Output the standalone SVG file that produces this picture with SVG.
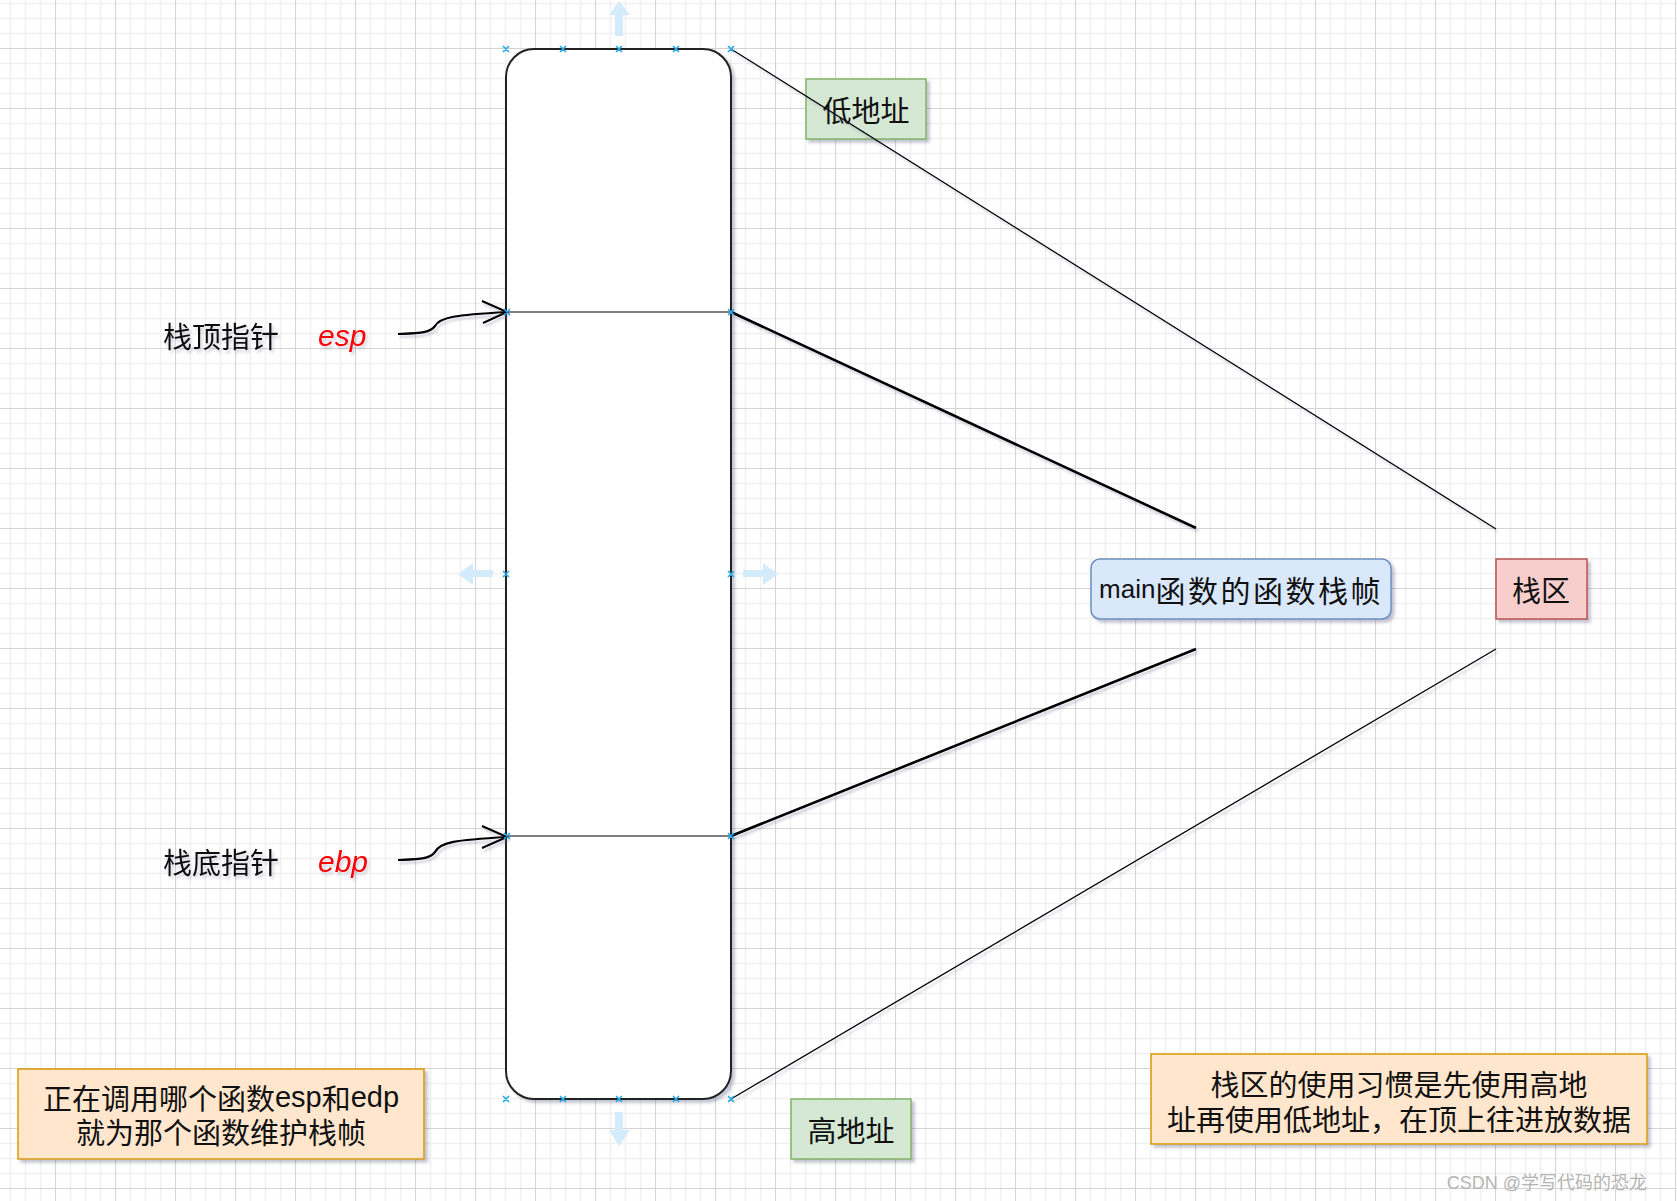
<svg xmlns="http://www.w3.org/2000/svg" width="1677" height="1201" viewBox="0 0 1677 1201">
<style>
.cjk{font-family:"Noto Sans CJK SC","Liberation Sans",sans-serif;fill:#111}
.hand{font-family:"Liberation Sans","Noto Sans CJK SC",sans-serif}
.lbl{font-size:29px;text-anchor:middle;dominant-baseline:central}
.conn{fill:none;stroke:#000}
.hx{stroke:#29a8e8;stroke-width:1.6}
.hover{fill:#d3ebfa}
</style>
<defs>
<pattern id="grid" x="55" y="48" width="60" height="60" patternUnits="userSpaceOnUse">
<path d="M15.5 0V60M30.5 0V60M45.5 0V60M0 15.5H60M0 30.5H60M0 45.5H60" stroke="#f0f0f0" stroke-width="1.6"/>
<path d="M0.5 0V60M0 0.5H60" stroke="#d4d4d4" stroke-width="1.2"/>
</pattern>
<filter id="sh" x="-10%" y="-10%" width="130%" height="130%">
<feDropShadow dx="3" dy="3" stdDeviation="1.5" flood-color="#5a5a80" flood-opacity="0.35"/>
</filter>
<filter id="tsh" x="-10%" y="-20%" width="130%" height="150%">
<feDropShadow dx="2" dy="3" stdDeviation="1.5" flood-color="#6a6a90" flood-opacity="0.3"/>
</filter>
<filter id="lsh" x="-5%" y="-5%" width="110%" height="110%">
<feDropShadow dx="2" dy="3" stdDeviation="1.2" flood-color="#6a6a90" flood-opacity="0.3"/>
</filter>
</defs>
<rect width="1677" height="1201" fill="#fff"/>
<rect width="1677" height="1201" fill="url(#grid)"/>

<g id="stack">
<rect x="506" y="49" width="225" height="1050" rx="28" ry="28" fill="#fff" stroke="#222" stroke-width="2" filter="url(#sh)"/>
<line x1="506" y1="312" x2="731" y2="312" stroke="#000" stroke-width="1.2"/>
<line x1="506" y1="836" x2="731" y2="836" stroke="#000" stroke-width="1.2"/>
</g>

<g id="esp-label" filter="url(#tsh)">
<text class="cjk" x="163" y="335" font-size="29" dominant-baseline="central">栈顶指针</text>
<text class="hand" x="318" y="335" font-size="30" fill="#f00" dominant-baseline="central" font-style="italic">esp</text>
</g>
<g id="ebp-label" filter="url(#tsh)">
<text class="cjk" x="163" y="861" font-size="29" dominant-baseline="central">栈底指针</text>
<text class="hand" x="318" y="861" font-size="30" fill="#f00" dominant-baseline="central" font-style="italic">ebp</text>
</g>

<g id="low-addr">
<rect x="806" y="79" width="120" height="60" fill="#d5e8d4" stroke="#82b366" stroke-width="1.5" filter="url(#sh)"/>
<text class="cjk lbl" x="866" y="109">低地址</text>
</g>
<g id="high-addr">
<rect x="791" y="1099" width="120" height="60" fill="#d5e8d4" stroke="#82b366" stroke-width="1.5" filter="url(#sh)"/>
<text class="cjk lbl" x="851" y="1129">高地址</text>
</g>
<g id="main-frame">
<rect x="1091" y="559" width="300" height="60" rx="9" ry="9" fill="#dae8fc" stroke="#6c8ebf" stroke-width="1.5" filter="url(#sh)"/>
<text x="1241" y="589" text-anchor="middle" dominant-baseline="central" font-size="30" class="cjk"><tspan class="hand" font-size="26">main</tspan><tspan letter-spacing="2.5">函数的函数栈帧</tspan></text>
</g>
<g id="stack-area">
<rect x="1496" y="559" width="91" height="60" fill="#f8cecc" stroke="#b85450" stroke-width="1.5" filter="url(#sh)"/>
<text class="cjk lbl" x="1541" y="589" font-size="30">栈区</text>
</g>
<g id="note-left">
<rect x="18" y="1069" width="406" height="90" fill="#ffe6cc" stroke="#d79b00" stroke-width="1.5" filter="url(#sh)"/>
<text class="cjk lbl" x="221" y="1097" font-size="29">正在调用哪个函数<tspan class="hand">esp</tspan>和<tspan class="hand">edp</tspan></text>
<text class="cjk lbl" x="221" y="1131" font-size="29">就为那个函数维护栈帧</text>
</g>
<g id="note-right">
<rect x="1151" y="1054" width="496" height="90" fill="#ffe6cc" stroke="#d79b00" stroke-width="1.5" filter="url(#sh)"/>
<text class="cjk lbl" x="1399" y="1083">栈区的使用习惯是先使用高地</text>
<text class="cjk lbl" x="1399" y="1118">址再使用低地址，在顶上往进放数据</text>
</g>

<g id="connectors">
<line class="conn" x1="731" y1="49" x2="1496" y2="529" stroke-width="1.3" filter="url(#lsh)"/>
<line class="conn" x1="731" y1="1099" x2="1496" y2="649" stroke-width="1.3" filter="url(#lsh)"/>
<line class="conn" x1="731" y1="312" x2="1196" y2="528" stroke-width="2.6" filter="url(#lsh)"/>
<line class="conn" x1="731" y1="836" x2="1196" y2="649" stroke-width="2.6" filter="url(#lsh)"/>
<g filter="url(#lsh)">
<path class="conn" stroke-width="2.2" d="M398 334C420 333 430 333 435 326C440 317 455 315 507 312"/>
<path class="conn" stroke-width="2" d="M482 301L507 312L483 323"/>
<path class="conn" stroke-width="2.2" d="M398 860C420 859 430 859 435 852C440 842 455 840 507 837"/>
<path class="conn" stroke-width="2" d="M482 826L507 837L482 848"/>
</g>
</g>

<g id="handles">
<path class="hover" d="M615 36V15H609L619 1L630 15H623V36Z"/>
<path class="hover" d="M615 1112V1130H609L619 1146L630 1130H623V1112Z"/>
<path class="hover" d="M493 570H473V563L458 574L473 585V577H493Z"/>
<path class="hover" d="M743 570H763V563L778 574L763 585V577H743Z"/>
<g class="hx">
<path d="M503 46l6 6M509 46l-6 6M560 46l6 6M566 46l-6 6M616 46l6 6M622 46l-6 6M673 46l6 6M679 46l-6 6M728 46l6 6M734 46l-6 6"/>
<path d="M503 1096l6 6M509 1096l-6 6M560 1096l6 6M566 1096l-6 6M616 1096l6 6M622 1096l-6 6M673 1096l6 6M679 1096l-6 6M728 1096l6 6M734 1096l-6 6"/>
<path d="M503 571l6 6M509 571l-6 6M728 571l6 6M734 571l-6 6"/>
<path d="M504 309l6 6M510 309l-6 6M728 309l6 6M734 309l-6 6"/>
<path d="M504 833l6 6M510 833l-6 6M728 833l6 6M734 833l-6 6"/>
</g>
</g>

<text x="1647" y="1189" text-anchor="end" font-size="18" fill="#b4b4b4" font-family="Liberation Sans,'Noto Sans CJK SC',sans-serif">CSDN @学写代码的恐龙</text>
</svg>
